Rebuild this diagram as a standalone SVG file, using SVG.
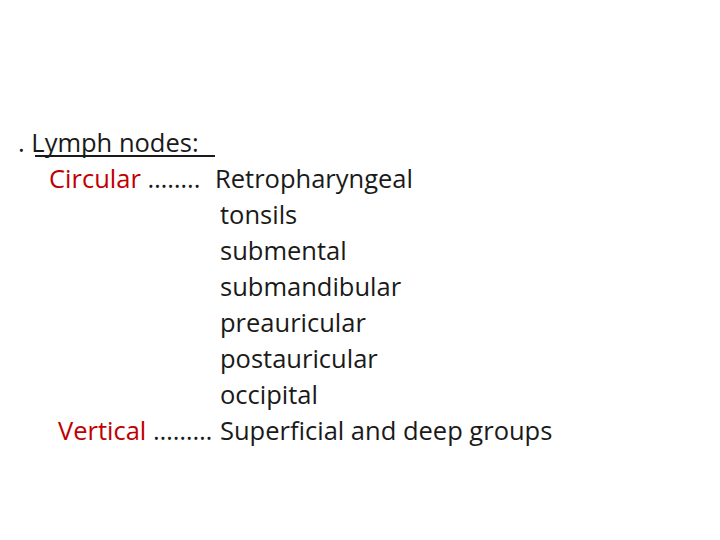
<svg xmlns="http://www.w3.org/2000/svg" width="720" height="540" viewBox="0 0 720 540">
<style>
text{font-family:"Open Sans","Liberation Sans",sans-serif;font-size:25.5px;fill:#1a1a1a}
.r{fill:#c00000}
</style>
<rect width="720" height="540" fill="#fff"/>
<text x="18" y="152">. Lymph nodes: </text>
<line x1="35" y1="156" x2="215" y2="156" stroke="#1a1a1a" stroke-width="2"/>
<text x="49" y="188"><tspan class="r">Circular</tspan> ……..<tspan x="215">Retropharyngeal</tspan></text>
<text x="220" y="224">tonsils</text>
<text x="220" y="260">submental</text>
<text x="220" y="296">submandibular</text>
<text x="220" y="332">preauricular</text>
<text x="220" y="368">postauricular</text>
<text x="220" y="404">occipital</text>
<text x="58" y="440"><tspan class="r">Vertical</tspan> ………<tspan x="220">Superficial and deep groups</tspan></text>
</svg>
